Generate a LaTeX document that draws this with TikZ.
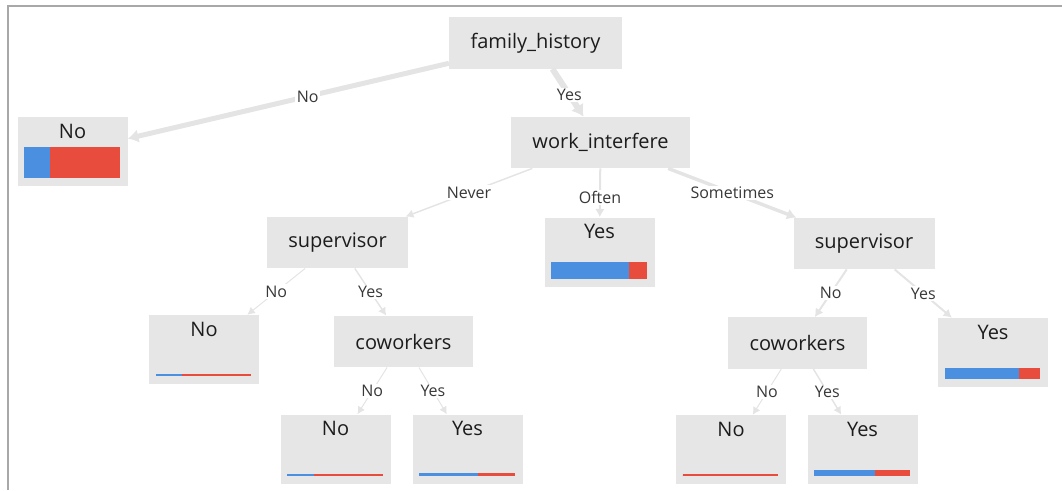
\documentclass[tikz,border=0pt]{standalone}
\usepackage{fontspec}
\setmainfont{Open Sans}
\usepackage{tikz}
\usetikzlibrary{arrows.meta,calc}
\definecolor{boxgray}{HTML}{E6E6E6}
\definecolor{branchgray}{HTML}{E4E4E4}
\definecolor{framegray}{HTML}{A8A8A8}
\definecolor{txtdark}{HTML}{1C1C1C}
\definecolor{txtmid}{HTML}{383838}
\definecolor{barblue}{HTML}{4A8FE0}
\definecolor{barred}{HTML}{E74C3C}
\tikzstyle{split}=[fill=boxgray, text=txtdark, font=\fontsize{15}{18}\selectfont, minimum height=38.5pt, inner xsep=16pt]
\tikzstyle{leaf}=[fill=boxgray, text=txtdark, font=\fontsize{15}{18}\selectfont, minimum width=82.5pt, minimum height=51.75pt, text height=11pt, text depth=31pt]
\tikzstyle{branch}=[draw=branchgray, -{Latex[length=5pt 0.8,width=5pt 1.4]}]
\tikzstyle{answer}=[fill=white, inner sep=1pt, text=txtmid, font=\fontsize{12}{14}\selectfont]

\begin{document}
\begin{tikzpicture}[x=0.75pt, y=-0.75pt]
      \useasboundingbox (0,0) rectangle (1062,490);
      \draw[framegray, line width=1.9pt] (8,490) -- (8,6) -- (1062,6);
      % splits
      \node[split] at (535.5, 43) (fh) {family\_history};
      \node[split] at (600.5, 142.5) (wi) {work\_interfere};
      \node[split] at (337.5, 242.5) (lsup) {supervisor};
      \node[split] at (864, 243.5) (rsup) {supervisor};
      \node[split] at (403.5, 341.5) (lcow) {coworkers};
      \node[split] at (797.5, 343) (rcow) {coworkers};
      % leaves
      \node[leaf] at (72.5, 151.5) (lno) {No};
      \node[leaf] at (599.5, 252) (often) {Yes};
      \node[leaf] at (204, 349.5) (lsupno) {No};
      \node[leaf] at (993, 352.5) (ryes) {Yes};
      \node[leaf] at (335.5, 449) (lcowno) {No};
      \node[leaf] at (467.5, 449) (lcowyes) {Yes};
      \node[leaf] at (731, 449.5) (rcowno) {No};
      \node[leaf] at (862.5, 449.5) (rcowyes) {Yes};
      % class bars
      \foreach \nm/\w/\h in {lno/0.27/31, often/0.81/17, lsupno/0.27/2, ryes/0.78/11, lcowno/0.28/2, lcowyes/0.61/2.5, rcowno/0/2, rcowyes/0.64/6}{
        \coordinate (\nm-l) at ([shift={(7,-8)}]\nm.south west);
        \coordinate (\nm-r) at ([shift={(-8,-8)}]\nm.south east);
        \fill[barblue] (\nm-l) rectangle ($(\nm-l)!\w!(\nm-r) + (0,-\h)$);
        \fill[barred] ($(\nm-l)!\w!(\nm-r)$) rectangle ($(\nm-r) + (0,-\h)$);
      }
      % branches
      \draw[branch, line width=3.75pt] (fh) -- node[answer, pos=0.44] {No} (lno);
      \draw[branch, line width=4.5pt] (fh) -- node[answer, pos=0.54] {Yes} (wi);
      \draw[branch, line width=1.1pt] (wi) -- node[answer] {Never} (lsup);
      \draw[branch, line width=1.5pt] (wi) -- node[answer, pos=0.6] {Often} (often);
      \draw[branch, line width=2.6pt] (wi) -- node[answer] {Sometimes} (rsup);
      \draw[branch, line width=0.75pt] (lsup) -- node[answer] {No} (lsupno);
      \draw[branch, line width=1.1pt] (lsup) -- node[answer] {Yes} (lcow);
      \draw[branch, line width=1.5pt] (rsup) -- node[answer] {No} (rcow);
      \draw[branch, line width=1.5pt] (rsup) -- node[answer] {Yes} (ryes);
      \draw[branch, line width=0.75pt] (lcow) -- node[answer] {No} (lcowno);
      \draw[branch, line width=0.75pt] (lcow) -- node[answer] {Yes} (lcowyes);
      \draw[branch, line width=0.75pt] (rcow) -- node[answer] {No} (rcowno);
      \draw[branch, line width=1.1pt] (rcow) -- node[answer] {Yes} (rcowyes);
\end{tikzpicture}
\end{document}
